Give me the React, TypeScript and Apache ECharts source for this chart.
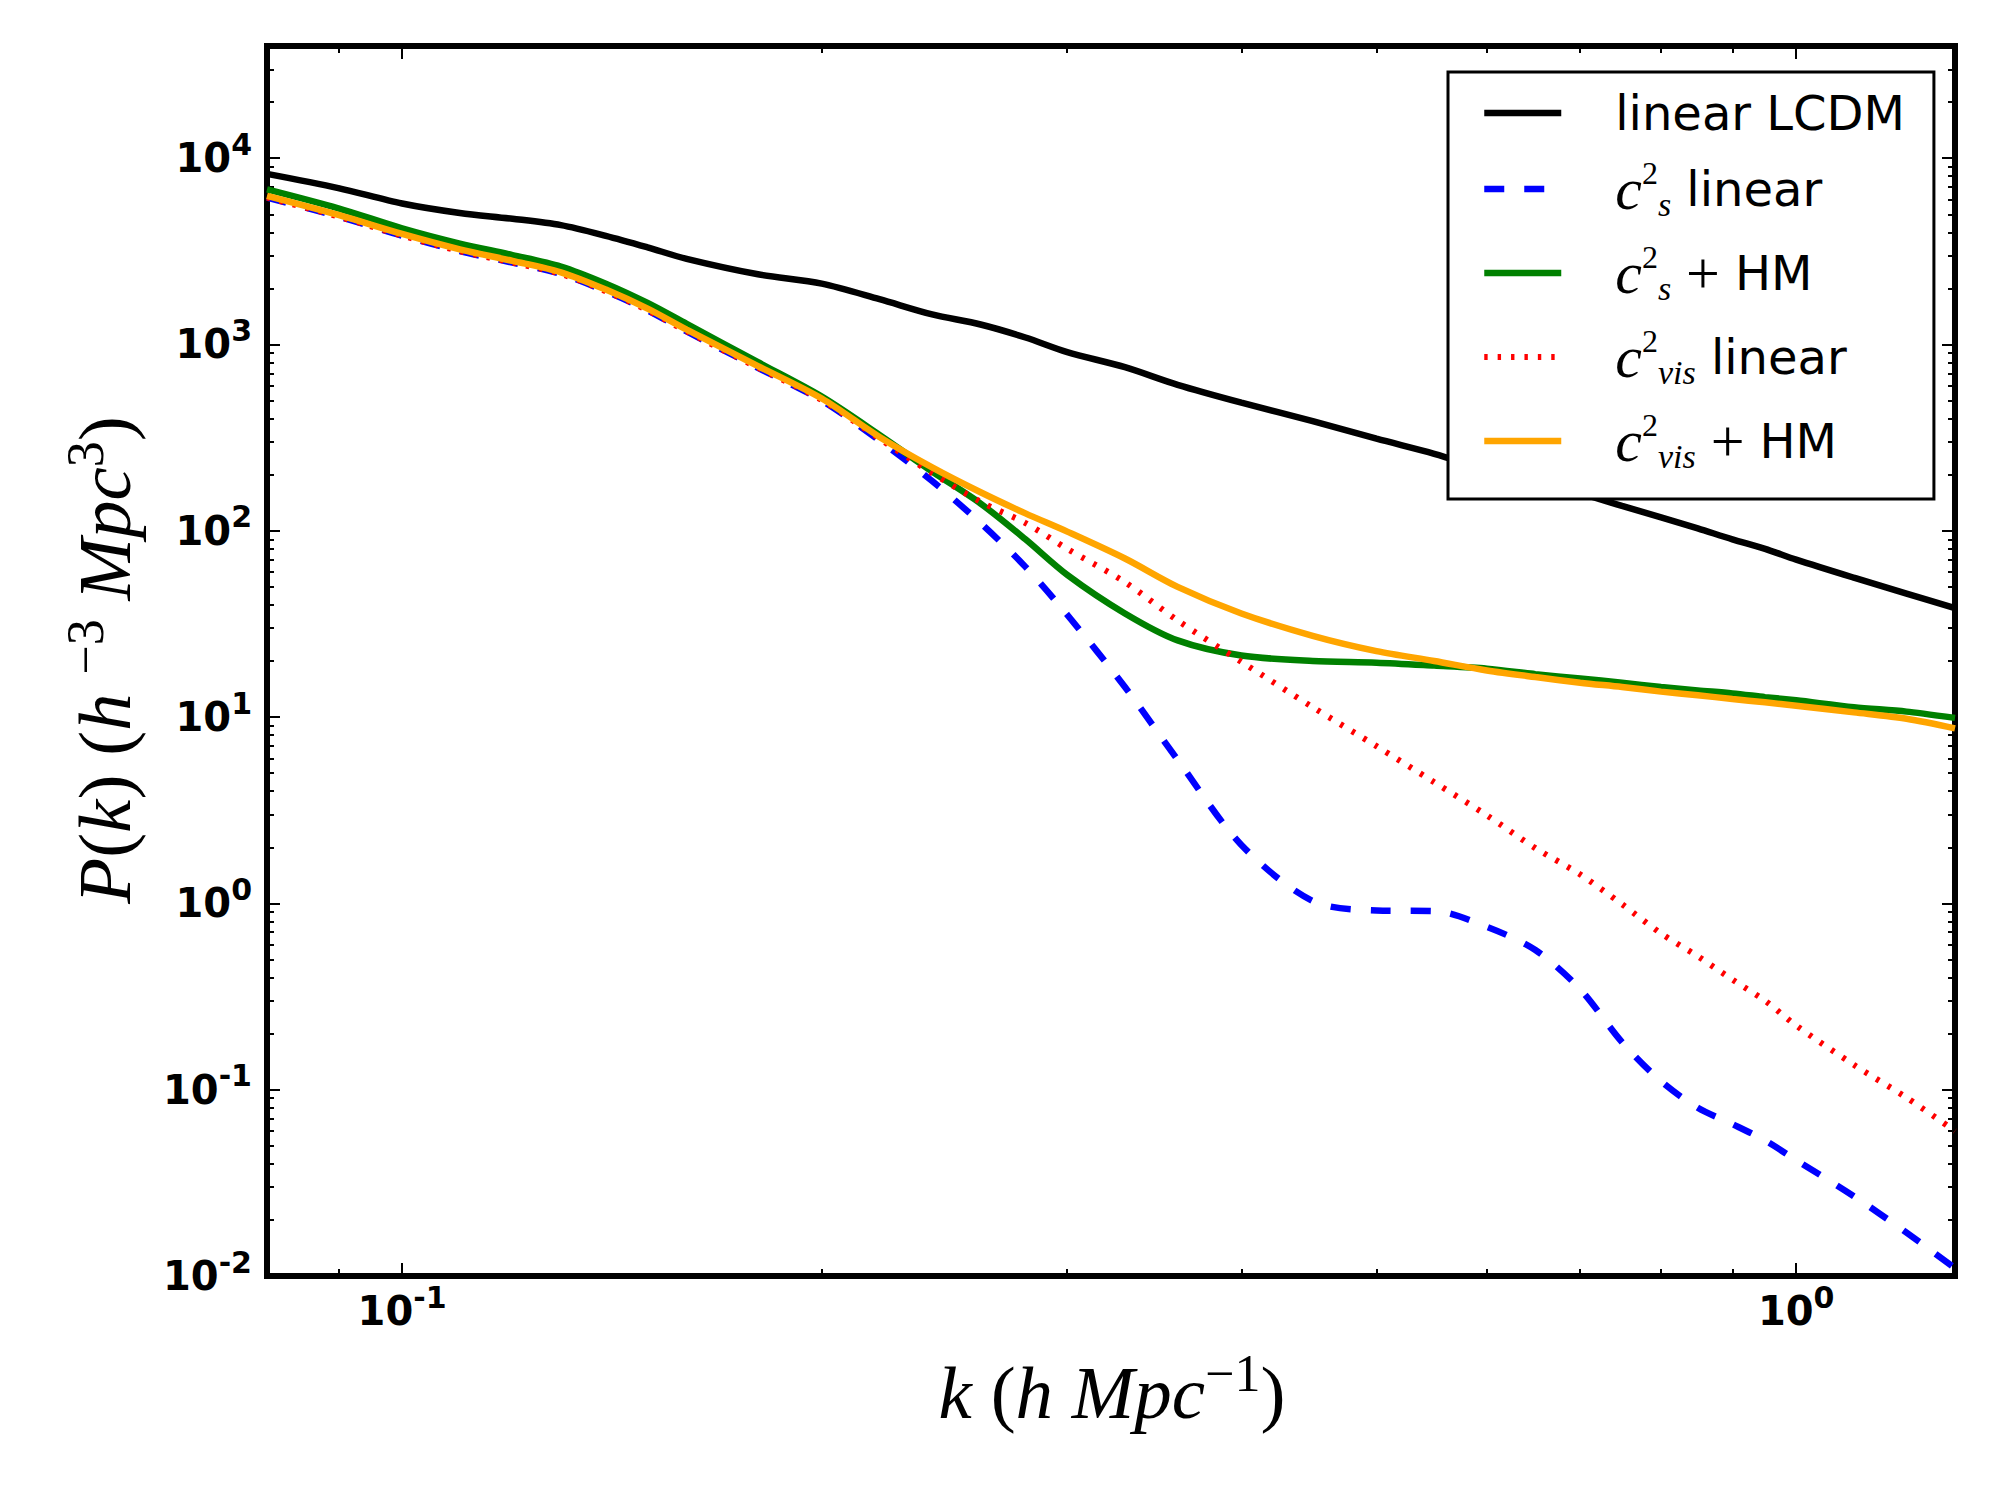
import React, { useEffect, useRef } from 'react';
import * as echarts from 'echarts';

// wavenumber k (h/Mpc)
const K = [0.08, 0.09, 0.1, 0.11, 0.12, 0.13, 0.14, 0.15, 0.16, 0.18, 0.2, 0.22, 0.24, 0.26, 0.28, 0.3, 0.33, 0.36, 0.4, 0.45, 0.5, 0.55, 0.6, 0.65, 0.7, 0.75, 0.8, 0.85, 0.9, 0.95, 1.0, 1.1, 1.2, 1.3];

// P(k) values
const LCDM_LINEAR = [8230, 6910, 5710, 5080, 4730, 4370, 3830, 3320, 2880, 2380, 2120, 1750, 1450, 1280, 1090, 910, 755, 607, 487, 388, 312, 259, 213, 182, 159, 136, 118, 103, 90, 80, 70, 56, 46, 38.4];
const CS_LINEAR = [6150, 4860, 3840, 3170, 2750, 2390, 1930, 1525, 1175, 750, 500, 305, 185, 110, 64, 35.4, 14.5, 5.9, 2.06, 1.03, 0.917, 0.91, 0.748, 0.562, 0.346, 0.18, 0.111, 0.08, 0.0654, 0.0534, 0.0419, 0.0268, 0.0171, 0.011];
const CS_HM = [6800, 5380, 4200, 3480, 3020, 2620, 2120, 1670, 1290, 803, 525, 327, 208, 140, 90, 58, 36, 25.8, 21.4, 20, 19.6, 18.9, 18.2, 17, 16.1, 15.3, 14.5, 13.9, 13.4, 12.8, 12.3, 11.3, 10.7, 9.9];
const CVIS_LINEAR = [6150, 4860, 3840, 3170, 2750, 2390, 1930, 1525, 1175, 750, 503, 312, 204, 143, 110, 80, 53, 33, 19.8, 11.3, 6.98, 4.47, 2.97, 1.98, 1.43, 0.99, 0.69, 0.52, 0.39, 0.3, 0.221, 0.136, 0.0906, 0.06];
const CVIS_HM = [6280, 4960, 3920, 3240, 2810, 2440, 1970, 1556, 1200, 766, 513, 319, 219, 161, 124, 99, 71, 50, 36, 27.3, 22.6, 20, 17.8, 16.4, 15.3, 14.5, 13.7, 13.1, 12.5, 12.0, 11.5, 10.6, 9.8, 8.7];

const SERIES_NAMES = ['linear LCDM', 'c_s^2 linear', 'c_s^2 + HM', 'c_vis^2 linear', 'c_vis^2 + HM'];
const SERIES_VALUES = [LCDM_LINEAR, CS_LINEAR, CS_HM, CVIS_LINEAR, CVIS_HM];

// axis ticks
const X_RANGE = [0.08, 1.3];
const Y_RANGE = [0.01, 40000];
const X_MAJOR = [0.1, 1];
const X_MINOR = [0.09, 0.2, 0.3, 0.4, 0.5, 0.6, 0.7, 0.8, 0.9];
const Y_MAJOR = [0.01, 0.1, 1, 10, 100, 1000, 10000];
const Y_MINOR_MULT = [2, 3, 4, 5, 6, 7, 8, 9];
const Y_MINOR: number[] = [];
Y_MAJOR.forEach((d) => Y_MINOR_MULT.forEach((m) => {
  const v = parseFloat((m * d).toPrecision(6));
  if (v < Y_RANGE[1]) Y_MINOR.push(v);
}));

const STYLES = [
  { color: '#000000', width: 6.5, type: 'solid' as any },
  { color: '#0000ff', width: 6.5, type: [20, 20] as any },
  { color: '#008000', width: 6.5, type: 'solid' as any },
  { color: '#ff0000', width: 6, type: [3.4, 10] as any },
  { color: '#ffa500', width: 6.5, type: 'solid' as any },
];

const LEGEND_TEXT: Record<string, string> = {
  'linear LCDM': '{g| }{t|linear LCDM}',
  'c_s^2 linear': '{g| }{m|c}{sp|2}{sb|s}{t| linear}',
  'c_s^2 + HM': '{g| }{m|c}{sp|2}{sb|s}{op| + }{t|HM}',
  'c_vis^2 linear': '{g| }{m|c}{sp|2}{sb|vis}{t| linear}',
  'c_vis^2 + HM': '{g| }{m|c}{sp|2}{sb|vis}{op| + }{t|HM}',
};

const tickRich = {
  b: { fontFamily: 'DejaVu Sans', fontWeight: 'bold', fontSize: 40, lineHeight: 58, color: '#000' },
  s: { fontFamily: 'DejaVu Sans', fontWeight: 'bold', fontSize: 30, lineHeight: 30, verticalAlign: 'top', color: '#000' },
};

const tickFormatter = (v: number) => {
  const e = Math.round(Math.log10(v));
  return `{b|10}{s|${e}}`;
};

const titleRich = {
  i: { fontFamily: 'Liberation Serif', fontStyle: 'italic', fontSize: 75, lineHeight: 90, fill: '#000', color: '#000' },
  r: { fontFamily: 'Liberation Serif', fontSize: 75, lineHeight: 90, fill: '#000', color: '#000' },
  sp: { fontFamily: 'Liberation Serif', fontSize: 52, lineHeight: 52, verticalAlign: 'top', fill: '#000', color: '#000' },
};

function frameAxis(dim: 'x' | 'y', position: string, withLabels: boolean) {
  const range = dim === 'x' ? X_RANGE : Y_RANGE;
  const major = dim === 'x' ? X_MAJOR : Y_MAJOR;
  return {
    type: 'log',
    logBase: 10,
    position,
    min: range[0],
    max: range[1],
    axisLine: { show: true, lineStyle: { color: '#000', width: 6, cap: 'square' } },
    axisTick: { show: true, inside: true, length: 13, customValues: major, lineStyle: { color: '#000', width: 2 } },
    axisLabel: withLabels
      ? { show: true, customValues: major, formatter: tickFormatter, rich: tickRich, margin: dim === 'x' ? 6 : 15 }
      : { show: false },
    splitLine: { show: false },
    minorTick: { show: false },
  };
}

function minorAxis(dim: 'x' | 'y', position: string) {
  const range = dim === 'x' ? X_RANGE : Y_RANGE;
  const minor = dim === 'x' ? X_MINOR : Y_MINOR;
  return {
    type: 'log',
    logBase: 10,
    position,
    min: range[0],
    max: range[1],
    axisLine: { show: false },
    axisTick: { show: true, inside: true, length: 7, customValues: minor, lineStyle: { color: '#000', width: 2 } },
    axisLabel: { show: false },
    splitLine: { show: false },
  };
}

export default function App() {
  const ref = useRef<HTMLDivElement>(null);
  useEffect(() => {
    if (!ref.current) return;
    const chart = echarts.init(ref.current, undefined, { renderer: 'svg' });
    const series = SERIES_NAMES.map((name, i) => ({
      name,
      type: 'line',
      xAxisIndex: 0,
      yAxisIndex: 0,
      data: K.map((k, j) => [k, SERIES_VALUES[i][j]]),
      showSymbol: false,
      symbol: 'none',
      smooth: 0.3,
      clip: true,
      lineStyle: { color: STYLES[i].color, width: STYLES[i].width, type: STYLES[i].type },
      itemStyle: { color: STYLES[i].color },
      emphasis: { disabled: true },
    }));
    chart.setOption({
      animation: false,
      backgroundColor: '#ffffff',
      grid: { left: 267, top: 46, width: 1688, height: 1230, containLabel: false },
      xAxis: [
        frameAxis('x', 'bottom', true),
        minorAxis('x', 'bottom'),
        frameAxis('x', 'top', false),
        minorAxis('x', 'top'),
      ],
      yAxis: [
        frameAxis('y', 'left', true),
        minorAxis('y', 'left'),
        frameAxis('y', 'right', false),
        minorAxis('y', 'right'),
      ],
      legend: {
        show: true,
        orient: 'vertical',
        left: 1448,
        top: 72,
        padding: [17, 29, 26, 33],
        itemGap: 20,
        itemWidth: 77,
        itemHeight: 14,
        selectedMode: false,
        backgroundColor: '#ffffff',
        borderColor: '#000000',
        borderWidth: 3,
        borderRadius: 0,
        itemStyle: { opacity: 0 },
        lineStyle: { width: 'inherit', type: 'inherit', color: 'inherit', cap: 'butt' },
        data: SERIES_NAMES,
        formatter: (name: string) => LEGEND_TEXT[name] || name,
        textStyle: {
          color: '#000',
          rich: {
            g: { width: 49, fontSize: 20, lineHeight: 64 },
            t: { fontFamily: 'DejaVu Sans', fontSize: 48, lineHeight: 64, color: '#000' },
            m: { fontFamily: 'Liberation Serif', fontStyle: 'italic', fontSize: 60, lineHeight: 64, color: '#000' },
            sp: { fontFamily: 'Liberation Serif', fontSize: 32, lineHeight: 24, verticalAlign: 'top', color: '#000' },
            sb: { fontFamily: 'Liberation Serif', fontStyle: 'italic', fontSize: 34, lineHeight: 20, verticalAlign: 'bottom', color: '#000' },
            op: { fontFamily: 'Liberation Serif', fontSize: 60, lineHeight: 64, color: '#000' },
          },
        },
      },
      graphic: [
        {
          type: 'text',
          x: 1112,
          y: 1392,
          silent: true,
          style: {
            text: '{i|k}{r| (}{i|h}{r| }{i|Mpc}{sp|−1}{r|)}',
            rich: titleRich,
            align: 'center',
            verticalAlign: 'middle',
            fill: '#000',
          },
        },
        {
          type: 'text',
          x: 104,
          y: 660,
          rotation: Math.PI / 2,
          silent: true,
          style: {
            text: '{i|P}{r|(}{i|k}{r|)}{r| (}{i|h}{r| }{sp|−3}{r| }{i|Mpc}{sp|3}{r|)}',
            rich: titleRich,
            align: 'center',
            verticalAlign: 'middle',
            fill: '#000',
          },
        },
      ],
      series,
    });
    return () => chart.dispose();
  }, []);
  return (
    <div
      ref={ref}
      style={{ position: 'fixed', left: 0, top: 0, width: 2000, height: 1500, background: '#fff' }}
    />
  );
}
